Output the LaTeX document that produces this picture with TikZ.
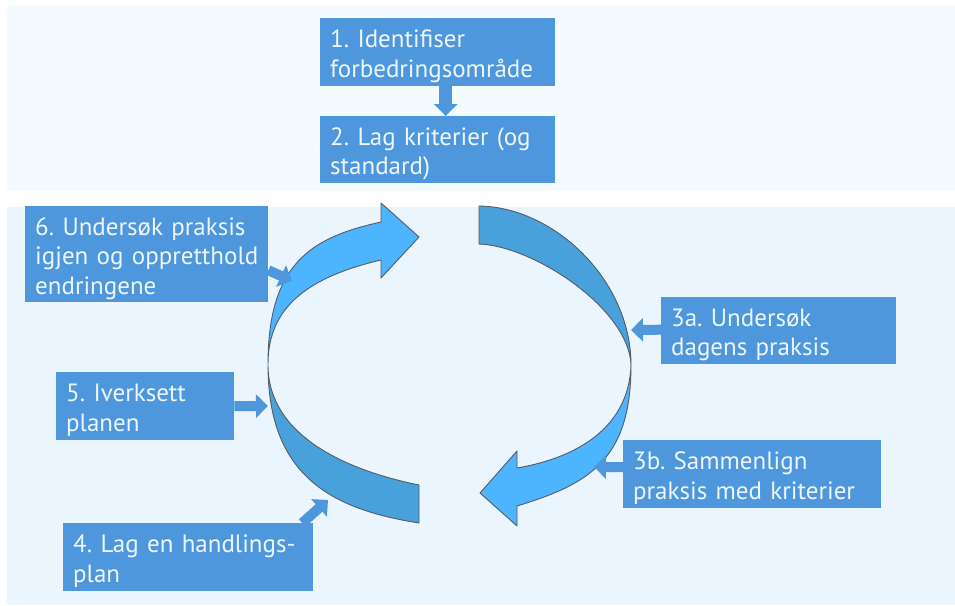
\documentclass[tikz,border=0pt]{standalone}
\usepackage{fontspec}
\setmainfont{PT Sans}
\frenchspacing
\usetikzlibrary{arrows.meta}

\definecolor{boxblue}{RGB}{78,151,220}
\definecolor{boxtext}{RGB}{238,246,253}
\definecolor{topbg}{RGB}{243,251,254}
\definecolor{lowbg}{RGB}{235,245,254}
\definecolor{brightarc}{RGB}{77,180,255}
\definecolor{darkarc}{RGB}{73,161,220}
\definecolor{arcline}{RGB}{85,92,100}

\begin{document}
\begin{tikzpicture}[x=1pt, y=-1pt,
    box/.style={fill=boxblue, text=boxtext, align=left, anchor=north west, inner xsep=10pt, inner ysep=0pt,
        font=\fontsize{25}{29.5}\selectfont, execute at begin node={\rule{0pt}{26pt}}},
    link/.style={draw=boxblue, line width=10pt, -{Triangle[width=23pt,length=12pt]}},
    arcpiece/.style={draw=arcline, line width=0.9pt, line join=round}]
    \useasboundingbox (0,0) rectangle (955,605);

    % panels
    \fill[topbg] (7,5) rectangle (955,191);
    \fill[lowbg] (7,207) rectangle (955,605);

    % the cycle
    \draw[arcpiece, fill=darkarc] (479,206) .. controls (554,207) and (631,280) .. (631,365)
        .. controls (629,309) and (534,246) .. (479,244) -- cycle;
    \draw[arcpiece, fill=darkarc] (268,365) .. controls (268,475) and (330,509) .. (419,523)
        -- (419,485) .. controls (345,470) and (268,435) .. (268,365) -- cycle;
    \draw[arcpiece, fill=brightarc] (268,364) .. controls (268,262) and (313,237) .. (381,222)
        -- (381,203) -- (419,237) -- (381,278) -- (381,260)
        .. controls (313,276) and (268,304) .. (268,364) -- cycle;
    \draw[arcpiece, fill=brightarc] (631,365) .. controls (631,460) and (589,484) .. (517,506)
        -- (517,526) -- (480,493) -- (517,451) -- (517,468)
        .. controls (581,457) and (629,425) .. (631,365) -- cycle;

    % boxes
    \node[box, text width=215pt, minimum height=68pt] (b1) at (320,18) {1. Identifiser\\forbedringsområde};
    \node[box, text width=215pt, minimum height=67pt] (b2) at (320,116) {2. Lag kriterier (og\\standard)};
    \node[box, text width=223pt, minimum height=96pt] (b6) at (25,206) {6. Undersøk praksis\\\mbox{igjen og oppretthold}\\endringene};
    \node[box, text width=158pt, minimum height=68pt] (b5) at (56,372) {5. Iverksett\\planen};
    \node[box, text width=230pt, minimum height=68pt] (b4) at (63,523) {4. Lag en handlings-\\plan};
    \node[box, text width=215pt, minimum height=67pt] (b3a) at (661,297) {3a. Undersøk\\dagens praksis};
    \node[box, text width=238pt, minimum height=68pt] (b3b) at (623,440) {3b. Sammenlign\\praksis med kriterier};

    % where the links meet the cycle
    \coordinate (t6) at (292,281);
    \coordinate (t5) at (268,406);
    \coordinate (t4) at (328,500);
    \coordinate (t3a) at (631,330);
    \coordinate (t3b) at (594,467);

    \draw[link, line width=13pt] ([xshift=8pt]b1.south) -- ([xshift=8pt]b2.north);
    \draw[link] ([yshift=-16pt]b6.east) -- (t6);
    \draw[link] (b5.east) -- (t5);
    \draw[link] ([xshift=114pt]b4.north) -- (t4);
    \draw[link] ([yshift=1pt]b3a.west) -- (t3a);
    \draw[link] ([yshift=7pt]b3b.west) -- (t3b);
\end{tikzpicture}
\end{document}
